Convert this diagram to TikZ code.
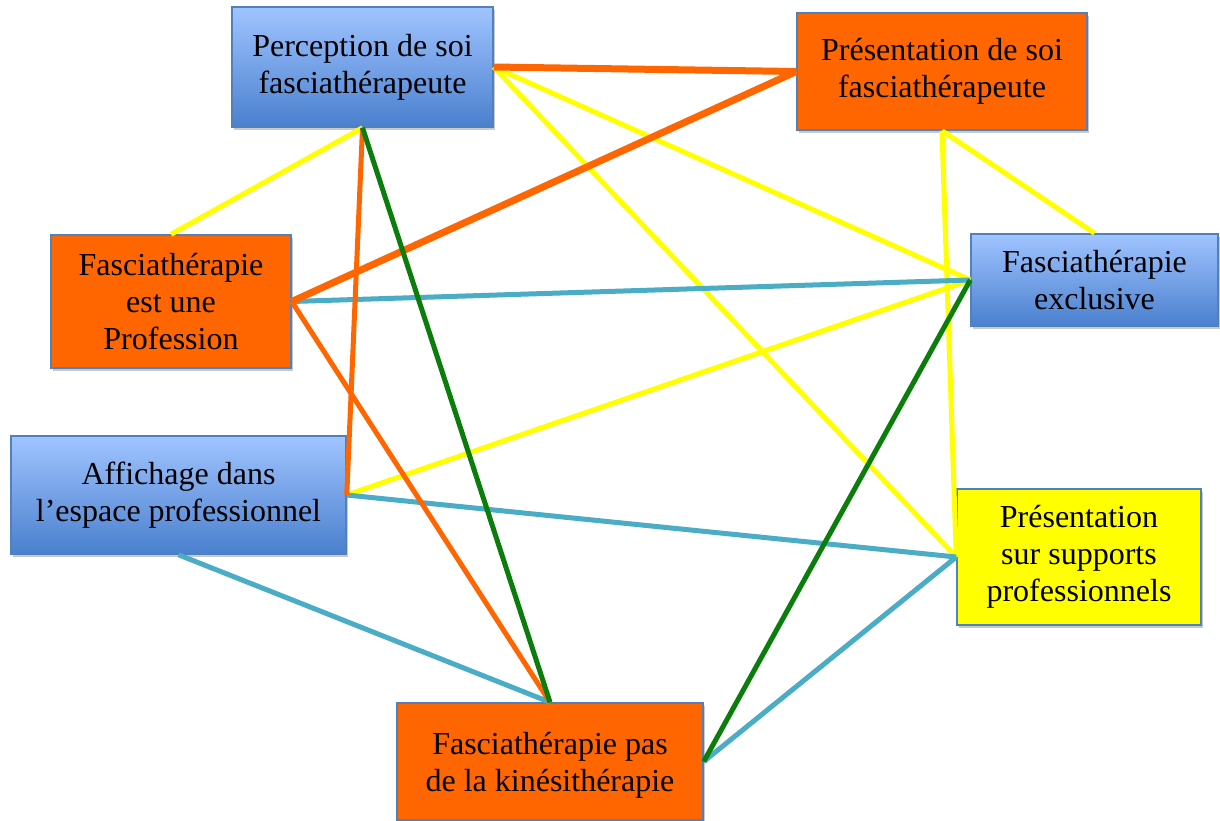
\documentclass[tikz,border=0pt]{standalone}
\usepackage{fontspec}
\setmainfont{Liberation Serif}
\usetikzlibrary{shadows}
\definecolor{boxorange}{HTML}{FF6600}
\definecolor{boxyellow}{HTML}{FFFF00}
\definecolor{bluetop}{HTML}{A0C4FF}
\definecolor{bluebot}{HTML}{4A80CE}
\definecolor{boxborder}{HTML}{4F81BD}
\definecolor{lteal}{HTML}{4BACC6}
\definecolor{lgreen}{HTML}{0A7D0A}
\definecolor{lyellow}{HTML}{FFFF00}
\definecolor{lorange}{HTML}{FF6600}
\tikzset{
  box/.style={draw=boxborder, line width=1.5pt, align=center, inner sep=0pt,
    font=\fontsize{32}{37}\selectfont,
    drop shadow={shadow xshift=2pt, shadow yshift=-3pt, opacity=0.35, fill=black!60}},
  bluebox/.style={box, top color=bluetop, bottom color=bluebot},
  orangebox/.style={box, fill=boxorange},
  yellowbox/.style={box, fill=boxyellow},
  ylink/.style={draw=lyellow, line width=5pt},
  olink/.style={draw=lorange, line width=5pt},
  othick/.style={draw=lorange, line width=7pt},
  tlink/.style={draw=lteal, line width=5pt},
  glink/.style={draw=lgreen, line width=5pt},
}
\begin{document}
\begin{tikzpicture}[x=1pt,y=-1pt]
\clip (0,0) rectangle (1220,820);
\fill[white] (0,0) rectangle (1220,820);

\node[bluebox, minimum width=261pt, minimum height=120pt] (perc) at (362.5,67) {Perception de soi\\fasciathérapeute};
\node[orangebox, minimum width=290pt, minimum height=117pt] (pres) at (942,71.5) {Présentation de soi\\fasciathérapeute};
\node[orangebox, minimum width=240pt, minimum height=133pt] (prof) at (171,301.5) {Fasciathérapie\\est une\\Profession};
\node[bluebox, minimum width=247pt, minimum height=92pt] (excl) at (1094.5,280) {Fasciathérapie\\exclusive};
\node[bluebox, minimum width=335pt, minimum height=118pt] (affi) at (178.5,495) {Affichage dans\\l’espace professionnel};
\node[yellowbox, minimum width=244pt, minimum height=136pt] (supp) at (1079,557) {Présentation\\sur supports\\professionnels};
\node[orangebox, minimum width=306pt, minimum height=117pt, text depth=0pt] (pas) at (550,761.5) {Fasciathérapie pas\\de la kinésithérapie};

% yellow links
\draw[ylink] (perc.south) -- (prof.north);
\draw[ylink] (perc.east) -- (excl.west);
\draw[ylink] (perc.east) -- (supp.west);
\draw[ylink] (pres.south) -- (excl.north);
\draw[ylink] (pres.south) -- (supp.west);
\draw[ylink] (affi.east) -- (excl.west);
% teal links
\draw[tlink] (prof.east) -- (excl.west);
\draw[tlink] (affi.east) -- (supp.west);
\draw[tlink] (affi.south) -- (pas.north);
\draw[tlink] (pas.east) -- (supp.west);
% orange links
\draw[olink] (perc.south) -- (affi.east);
\draw[olink] (prof.east) -- (pas.north);
\draw[othick] (perc.east) -- (pres.west);
\draw[othick] (pres.west) -- (prof.east);
% green links
\draw[glink] (perc.south) -- (pas.north);
\draw[glink] (excl.west) -- (pas.east);
\end{tikzpicture}
\end{document}
